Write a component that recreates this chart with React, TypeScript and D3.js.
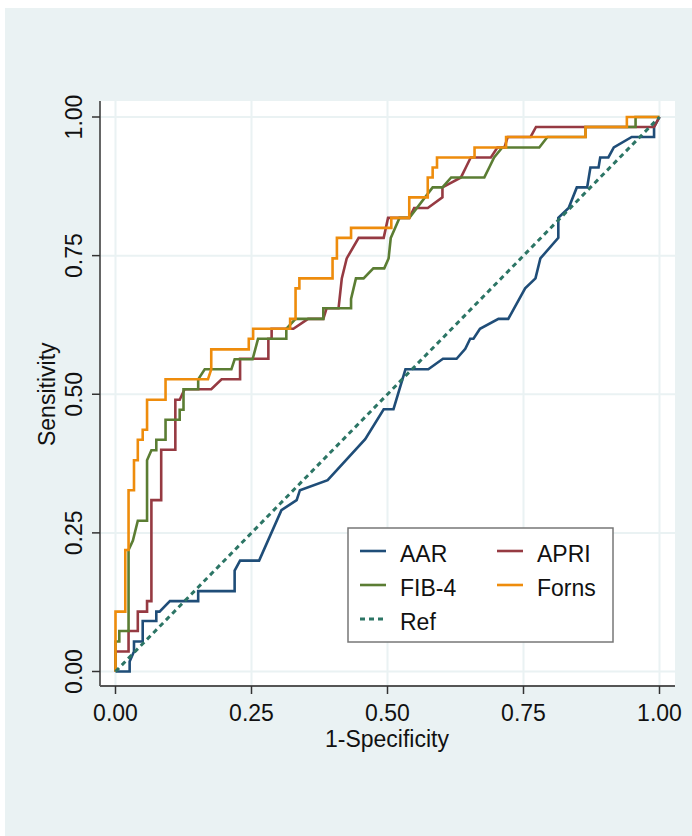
import React from 'react';
import * as d3 from 'd3';

// ROC curve points (1-specificity, sensitivity)
const aarFpr = [0, 0.026, 0.026, 0.034, 0.034, 0.05, 0.05, 0.075, 0.075, 0.081, 0.1, 0.152, 0.152, 0.219, 0.219, 0.229, 0.264, 0.305, 0.333, 0.339, 0.39, 0.459, 0.493, 0.511, 0.533, 0.575, 0.602, 0.627, 0.643, 0.652, 0.658, 0.67, 0.704, 0.722, 0.753, 0.772, 0.781, 0.814, 0.814, 0.833, 0.848, 0.867, 0.873, 0.888, 0.891, 0.906, 0.916, 0.949, 0.99, 0.99, 1.0];
const aarTpr = [0, 0, 0.018, 0.036, 0.054, 0.054, 0.091, 0.091, 0.108, 0.108, 0.127, 0.127, 0.145, 0.145, 0.182, 0.2, 0.2, 0.291, 0.309, 0.327, 0.345, 0.419, 0.473, 0.473, 0.545, 0.545, 0.564, 0.564, 0.582, 0.6, 0.6, 0.618, 0.636, 0.636, 0.691, 0.709, 0.745, 0.782, 0.818, 0.836, 0.873, 0.873, 0.909, 0.909, 0.927, 0.927, 0.945, 0.964, 0.964, 0.982, 1.0];

const apriFpr = [0, 0, 0.024, 0.024, 0.041, 0.041, 0.058, 0.058, 0.066, 0.066, 0.084, 0.084, 0.11, 0.11, 0.118, 0.127, 0.176, 0.195, 0.229, 0.229, 0.281, 0.281, 0.287, 0.287, 0.327, 0.354, 0.382, 0.388, 0.41, 0.416, 0.425, 0.447, 0.493, 0.501, 0.54, 0.549, 0.574, 0.601, 0.601, 0.635, 0.644, 0.653, 0.69, 0.702, 0.715, 0.721, 0.763, 0.773, 0.99, 1.0];
const apriTpr = [0, 0.036, 0.036, 0.073, 0.073, 0.108, 0.108, 0.127, 0.127, 0.309, 0.309, 0.4, 0.4, 0.49, 0.49, 0.509, 0.509, 0.527, 0.527, 0.564, 0.564, 0.6, 0.6, 0.618, 0.618, 0.636, 0.636, 0.655, 0.655, 0.709, 0.745, 0.782, 0.782, 0.818, 0.818, 0.836, 0.836, 0.855, 0.873, 0.891, 0.909, 0.927, 0.927, 0.945, 0.945, 0.964, 0.964, 0.982, 0.982, 1.0];

const fibFpr = [0, 0, 0.007, 0.007, 0.024, 0.024, 0.032, 0.041, 0.058, 0.058, 0.066, 0.075, 0.075, 0.092, 0.092, 0.118, 0.118, 0.125, 0.125, 0.152, 0.152, 0.164, 0.213, 0.219, 0.252, 0.262, 0.314, 0.314, 0.331, 0.382, 0.382, 0.433, 0.433, 0.442, 0.456, 0.474, 0.494, 0.502, 0.506, 0.514, 0.522, 0.54, 0.583, 0.601, 0.617, 0.678, 0.687, 0.696, 0.711, 0.779, 0.794, 0.864, 0.864, 0.956, 0.956, 1.0];
const fibTpr = [0, 0.054, 0.054, 0.073, 0.073, 0.219, 0.236, 0.272, 0.272, 0.381, 0.399, 0.399, 0.418, 0.418, 0.454, 0.454, 0.472, 0.472, 0.509, 0.509, 0.527, 0.545, 0.545, 0.563, 0.563, 0.6, 0.6, 0.618, 0.636, 0.636, 0.655, 0.655, 0.672, 0.709, 0.709, 0.727, 0.727, 0.745, 0.782, 0.8, 0.818, 0.818, 0.873, 0.873, 0.891, 0.891, 0.909, 0.927, 0.945, 0.945, 0.964, 0.964, 0.982, 0.982, 1.0, 1.0];

const fornsFpr = [0, 0, 0.018, 0.018, 0.024, 0.024, 0.034, 0.034, 0.041, 0.041, 0.05, 0.05, 0.058, 0.058, 0.092, 0.092, 0.17, 0.176, 0.176, 0.245, 0.245, 0.253, 0.253, 0.321, 0.321, 0.331, 0.331, 0.338, 0.338, 0.399, 0.399, 0.407, 0.407, 0.433, 0.433, 0.507, 0.507, 0.54, 0.54, 0.574, 0.574, 0.583, 0.583, 0.591, 0.591, 0.66, 0.66, 0.718, 0.718, 0.864, 0.864, 0.94, 0.94, 1.0];
const fornsTpr = [0, 0.108, 0.108, 0.219, 0.219, 0.327, 0.327, 0.381, 0.381, 0.418, 0.418, 0.436, 0.436, 0.49, 0.49, 0.527, 0.527, 0.545, 0.581, 0.581, 0.6, 0.6, 0.618, 0.618, 0.636, 0.636, 0.691, 0.691, 0.709, 0.709, 0.745, 0.745, 0.782, 0.782, 0.8, 0.8, 0.818, 0.818, 0.855, 0.855, 0.891, 0.891, 0.909, 0.909, 0.927, 0.927, 0.945, 0.945, 0.964, 0.964, 0.982, 0.982, 1.0, 1.0];

const refFpr = [0, 1];
const refTpr = [0, 1];

const ticks = [0, 0.25, 0.5, 0.75, 1];
const tickLabels = ['0.00', '0.25', '0.50', '0.75', '1.00'];

const series = [
  { name: 'AAR', fpr: aarFpr, tpr: aarTpr, color: '#1f4d78', dash: null },
  { name: 'APRI', fpr: apriFpr, tpr: apriTpr, color: '#963a42', dash: null },
  { name: 'FIB-4', fpr: fibFpr, tpr: fibTpr, color: '#5b7d33', dash: null },
  { name: 'Forns', fpr: fornsFpr, tpr: fornsTpr, color: '#ee8c0c', dash: null },
  { name: 'Ref', fpr: refFpr, tpr: refTpr, color: '#2c7565', dash: '5 4' },
];

const FONT = '"Liberation Sans", Arial, Helvetica, sans-serif';
const FS = 23;

export default function App() {
  const width = 692;
  const height = 836;
  const plot = { left: 100, right: 675, top: 101, bottom: 686 };

  const x = d3.scaleLinear().domain([0, 1]).range([115.5, 659.5]);
  const y = d3.scaleLinear().domain([0, 1]).range([671.5, 117]);

  const line = d3
    .line<[number, number]>()
    .x(d => x(d[0]))
    .y(d => y(d[1]));

  // legend layout: two columns, 3 rows
  const legendPos = [
    { col: 0, row: 0 },
    { col: 1, row: 0 },
    { col: 0, row: 1 },
    { col: 1, row: 1 },
    { col: 0, row: 2 },
  ];
  const colX = [360, 497];
  const rowY = [551, 585, 619];

  return (
    <div style={{ position: 'absolute', left: 0, top: 0 }}>
      <svg width={width} height={height} style={{ display: 'block' }}>
        <rect x={0} y={0} width={width} height={height} fill="#ffffff" />
        <rect x={5} y={8} width={width - 5} height={height - 8} fill="#eaf2f3" />
        <rect
          x={plot.left}
          y={plot.top}
          width={plot.right - plot.left}
          height={plot.bottom - plot.top}
          fill="#ffffff"
        />

        {/* grid */}
        {ticks.map(t => (
          <g key={'g' + t}>
            <line x1={plot.left} x2={plot.right} y1={y(t)} y2={y(t)} stroke="#eaf2f3" strokeWidth={2} />
            <line x1={x(t)} x2={x(t)} y1={plot.top} y2={plot.bottom} stroke="#eaf2f3" strokeWidth={2} />
          </g>
        ))}

        {/* curves */}
        {series.map(s => (
          <path
            key={s.name}
            d={line(s.fpr.map((v, i) => [v, s.tpr[i]] as [number, number])) || ''}
            fill="none"
            stroke={s.color}
            strokeWidth={s.dash ? 3 : 2.6}
            strokeDasharray={s.dash || undefined}
            strokeLinejoin="miter"
          />
        ))}

        {/* axes */}
        <line x1={plot.left} x2={plot.left} y1={plot.top} y2={plot.bottom} stroke="#555" strokeWidth={1.8} />
        <line x1={plot.left} x2={plot.right} y1={plot.bottom} y2={plot.bottom} stroke="#555" strokeWidth={1.8} />
        {ticks.map((t, i) => (
          <g key={'t' + t}>
            <line x1={plot.left - 8} x2={plot.left} y1={y(t)} y2={y(t)} stroke="#333" strokeWidth={1.5} />
            <text
              transform={`translate(82, ${y(t)}) rotate(-90)`}
              textAnchor="middle"
              fontFamily={FONT}
              fontSize={FS}
              fill="#111"
            >
              {tickLabels[i]}
            </text>
            <line x1={x(t)} x2={x(t)} y1={plot.bottom} y2={plot.bottom + 8} stroke="#333" strokeWidth={1.5} />
            <text x={x(t)} y={721} textAnchor="middle" fontFamily={FONT} fontSize={FS} fill="#111">
              {tickLabels[i]}
            </text>
          </g>
        ))}

        <text
          transform={`translate(55, ${y(0.5)}) rotate(-90)`}
          textAnchor="middle"
          fontFamily={FONT}
          fontSize={FS}
          fill="#111"
        >
          Sensitivity
        </text>
        <text x={387} y={747} textAnchor="middle" fontFamily={FONT} fontSize={FS} fill="#111">
          1-Specificity
        </text>

        {/* legend */}
        <rect x={348} y={528} width={265} height={114} fill="#ffffff" stroke="#777" strokeWidth={1.5} />
        {series.map((s, i) => {
          const p = legendPos[i];
          const lx = colX[p.col];
          const ly = rowY[p.row];
          return (
            <g key={'l' + s.name}>
              <line
                x1={lx}
                x2={lx + 26}
                y1={ly}
                y2={ly}
                stroke={s.color}
                strokeWidth={s.dash ? 3 : 2.6}
                strokeDasharray={s.dash || undefined}
              />
              <text x={lx + 40} y={ly + 11} fontFamily={FONT} fontSize={FS} fill="#111">
                {s.name}
              </text>
            </g>
          );
        })}
      </svg>
    </div>
  );
}
